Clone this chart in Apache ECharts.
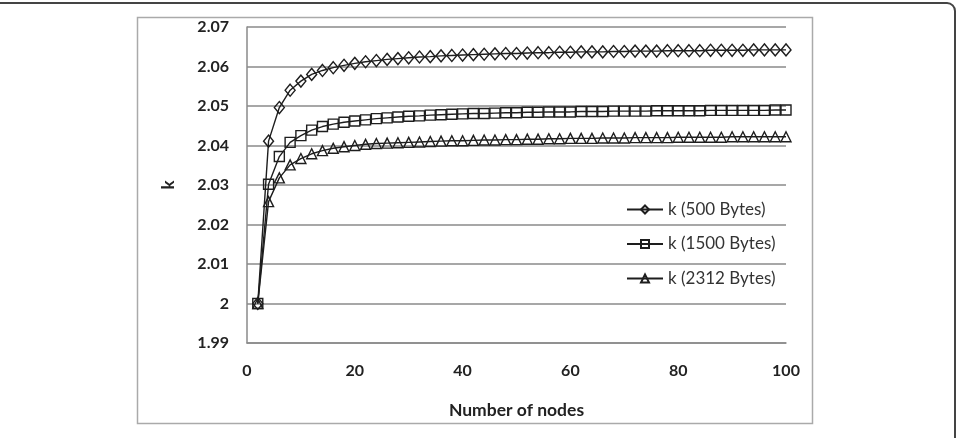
<!DOCTYPE html>
<html>
<head>
<meta charset="utf-8">
<script src="https://cdn.jsdelivr.net/npm/echarts@6/dist/echarts.min.js"></script>
<style>
html,body{margin:0;padding:0;background:#fff;}
#c{width:961px;height:438px;}
</style>
</head>
<body>
<div id="c"></div>
<script>
var nodes = [2,4,6,8,10,12,14,16,18,20,22,24,26,28,30,32,34,36,38,40,42,44,46,48,50,52,54,56,58,60,62,64,66,68,70,72,74,76,78,80,82,84,86,88,90,92,94,96,98,100];
var k500 = [2.0000,2.0411,2.0496,2.0540,2.0563,2.0580,2.0590,2.0597,2.0603,2.0608,2.0612,2.0615,2.0618,2.0620,2.0622,2.0624,2.0625,2.0627,2.0628,2.0629,2.0630,2.0631,2.0632,2.0633,2.0633,2.0634,2.0635,2.0635,2.0636,2.0636,2.0637,2.0637,2.0637,2.0638,2.0638,2.0639,2.0639,2.0639,2.0640,2.0640,2.0640,2.0640,2.0641,2.0641,2.0641,2.0641,2.0642,2.0642,2.0642,2.0642];
var k1500 = [2.0000,2.0302,2.0372,2.0408,2.0425,2.0439,2.0448,2.0454,2.0459,2.0462,2.0465,2.0468,2.0470,2.0472,2.0474,2.0475,2.0477,2.0478,2.0479,2.0480,2.0481,2.0481,2.0482,2.0483,2.0483,2.0484,2.0484,2.0485,2.0485,2.0485,2.0486,2.0486,2.0486,2.0487,2.0487,2.0487,2.0487,2.0488,2.0488,2.0488,2.0488,2.0488,2.0489,2.0489,2.0489,2.0489,2.0489,2.0489,2.0490,2.0490];
var k2312 = [2.0000,2.0258,2.0318,2.0351,2.0367,2.0379,2.0387,2.0393,2.0397,2.0400,2.0403,2.0405,2.0406,2.0407,2.0408,2.0409,2.0410,2.0411,2.0412,2.0412,2.0413,2.0414,2.0414,2.0415,2.0415,2.0416,2.0416,2.0417,2.0417,2.0418,2.0418,2.0418,2.0419,2.0419,2.0419,2.0420,2.0420,2.0420,2.0420,2.0421,2.0421,2.0421,2.0421,2.0421,2.0422,2.0422,2.0422,2.0422,2.0422,2.0422];
var seriesNames = ['k (500 Bytes)','k (1500 Bytes)','k (2312 Bytes)'];
var xTitle = 'Number of nodes';
var yTitle = 'k';

function pairs(ys){ return nodes.map(function(x,i){ return [x, ys[i]]; }); }

var chart = echarts.init(document.getElementById('c'), null, {renderer:'canvas'});
var lineCol = '#1e1e1e';
function mk(name, ys, sym, size){
  return {
    name: name, type: 'line', data: pairs(ys),
    symbol: sym, symbolSize: size, showSymbol: true,
    lineStyle: {color: lineCol, width: 1.4},
    itemStyle: {color: 'rgba(255,255,255,0)', borderColor: lineCol, borderWidth: 1.4},
    emphasis: {disabled: true},
    animation: false
  };
}
chart.setOption({
  animation: false,
  backgroundColor: '#fff',
  graphic: [
    {type:'polyline', shape:{points:[[0,3],[947,3]]}, style:{fill:null, stroke:'#444', lineWidth:2}, silent:true},
    {type:'arc', shape:{cx:947, cy:11, r:8, startAngle:-Math.PI/2, endAngle:0, clockwise:true}, style:{fill:null, stroke:'#444', lineWidth:2}, silent:true},
    {type:'polyline', shape:{points:[[955,11],[955,438]]}, style:{fill:null, stroke:'#444', lineWidth:2}, silent:true},
    {type:'rect', shape:{x:137.5, y:17.5, width:675, height:406}, style:{fill:null, stroke:'#aaa', lineWidth:1.5}, silent:true}
  ],
  grid: {left: 247, top: 27, width: 539, height: 316, containLabel: false},
  legend: {
    orient: 'vertical', left: 621, top: 196,
    itemWidth: 36, itemHeight: 10, itemGap: 17.5,
    textStyle: {fontFamily: 'Lato', fontSize: 17, color: '#333'},
    data: seriesNames
  },
  xAxis: {
    type: 'value', min: 0, max: 100, interval: 20,
    name: xTitle, nameLocation: 'middle', nameGap: 58,
    nameTextStyle: {fontFamily: 'Lato', fontWeight: 'bold', fontSize: 17.5, color: '#222'},
    axisLine: {show: true, lineStyle: {color: '#8a8a8a', width: 1.5}},
    axisTick: {show: false},
    splitLine: {show: false},
    axisLabel: {fontFamily: 'Lato', fontWeight: 'bold', fontSize: 16, color: '#222', margin: 20}
  },
  yAxis: {
    type: 'value', min: 1.99, max: 2.07, interval: 0.01,
    name: yTitle, nameLocation: 'middle', nameGap: 70, nameRotate: 90,
    nameTextStyle: {fontFamily: 'Lato', fontWeight: 'bold', fontSize: 17, color: '#222'},
    axisLine: {show: true, lineStyle: {color: '#8a8a8a', width: 1.5}},
    axisTick: {show: false},
    splitLine: {show: true, lineStyle: {color: '#8a8a8a', width: 1.5}},
    axisLabel: {fontFamily: 'Lato', fontWeight: 'bold', fontSize: 16, color: '#222', margin: 18,
      formatter: function(v){ return (Math.round(v*100)/100).toString(); }}
  },
  series: [
    mk(seriesNames[0], k500, 'diamond', [10, 12]),
    mk(seriesNames[1], k1500, 'rect', [10, 10]),
    mk(seriesNames[2], k2312, 'triangle', [10, 10])
  ]
});
</script>
</body>
</html>
